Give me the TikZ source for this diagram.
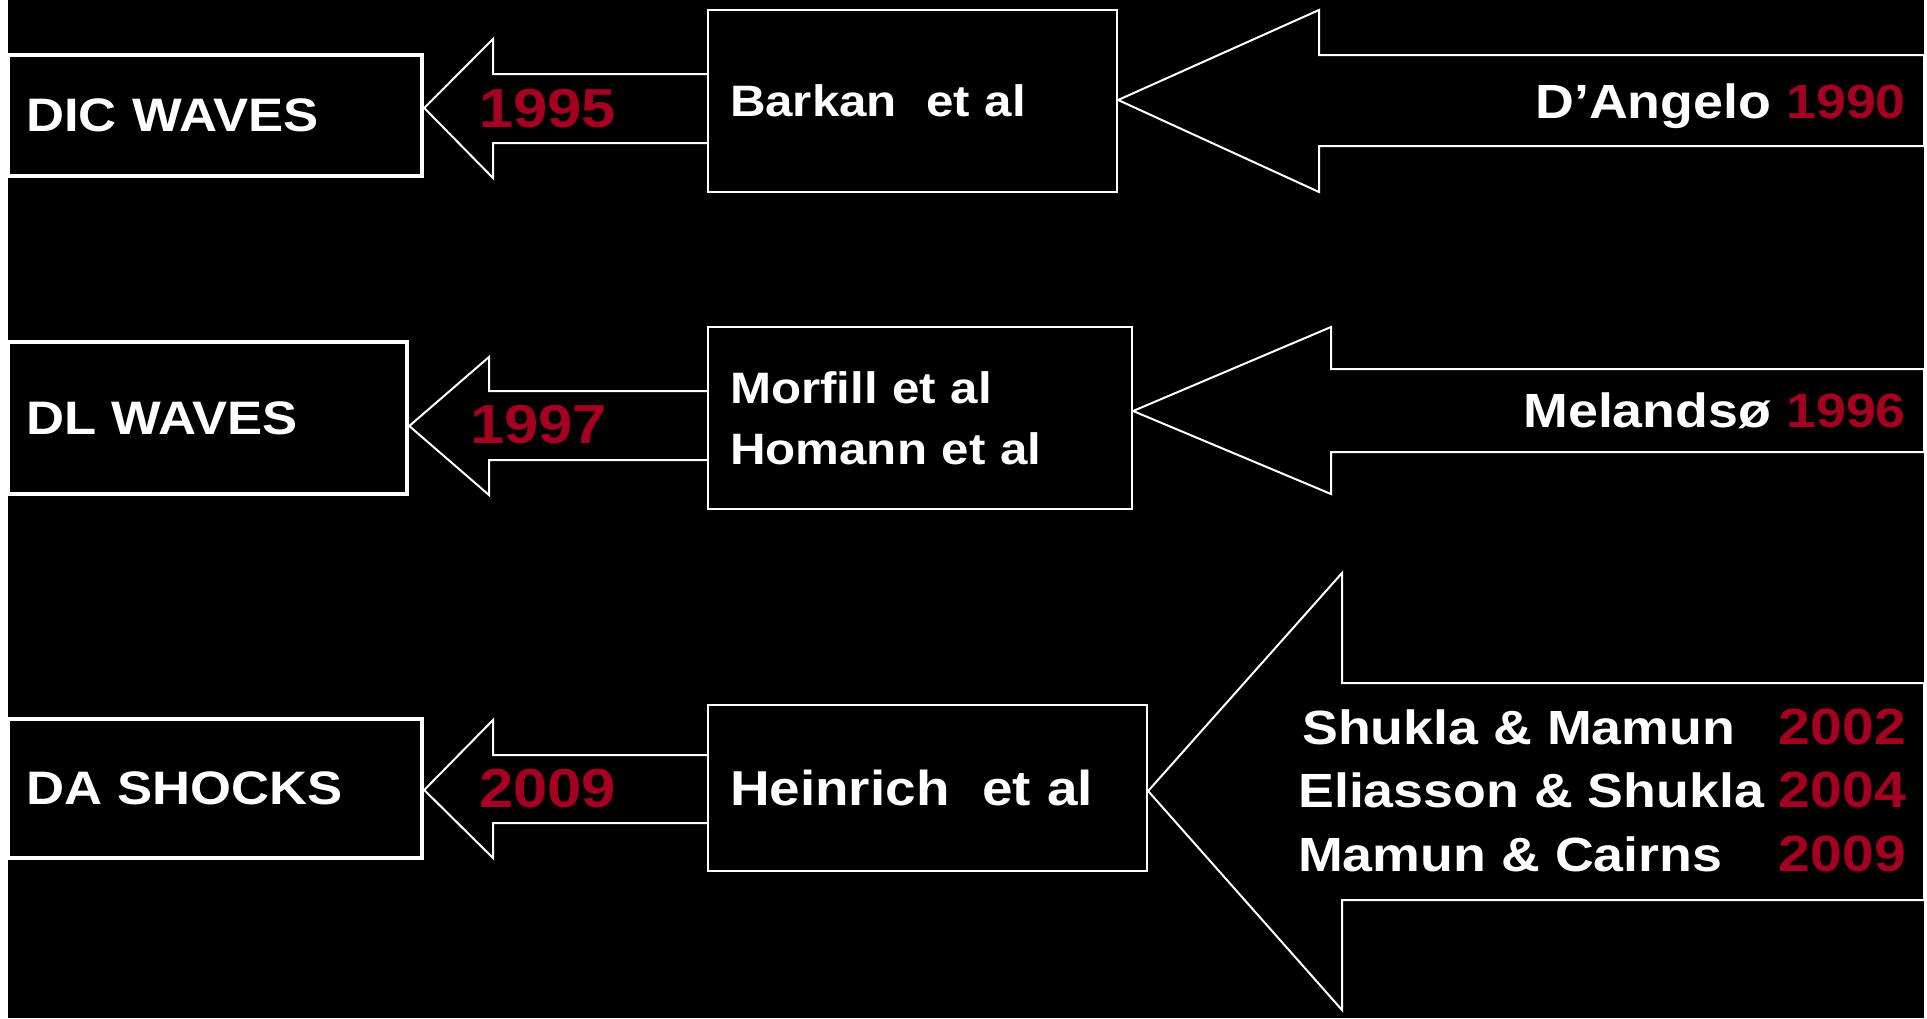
\documentclass[tikz,border=0pt]{standalone}
\usepackage{fontspec}
\setmainfont{Liberation Sans}[FakeStretch=1.12]
\usepackage{xcolor}
\usetikzlibrary{positioning}
\definecolor{yearred}{RGB}{165,0,33}
\tikzset{
    topicbox/.style={
        draw=white,
        line width=4.5pt,
        fill=black,
        text=white,
        inner xsep=18pt,
        inner ysep=0pt,
        align=left,
        font=\fontsize{47}{56}\selectfont\bfseries
    },
    authorbox/.style={
        draw=white,
        line width=2.2pt,
        fill=black,
        text=white,
        inner xsep=22pt,
        inner ysep=0pt,
        align=left,
        font=\fontsize{44}{61}\selectfont\bfseries
    },
    blockarrow/.style={
        draw=white,
        line width=2pt,
        line join=miter
    },
    yeartext/.style={
        text=yearred,
        inner sep=0pt,
        anchor=base west,
        font=\fontsize{55}{66}\selectfont\bfseries
    },
    sourcetext/.style={
        text=white,
        inner sep=0pt,
        font=\fontsize{48}{63}\selectfont\bfseries
    }
}

\begin{document}
\begin{tikzpicture}[x=1pt, y=-1pt]
    % Page and black background
    \useasboundingbox (0,0) rectangle (1927,1018);
    \fill[white] (0,0) rectangle (1927,1018);
    \fill[black] (8,0) rectangle (1924,1018);

    % Topics on the left
    \node[topicbox, text width=378pt, minimum height=121pt] (dic) at (215,115.5) {DIC WAVES};
    \node[topicbox, text width=363pt, minimum height=152pt] (dl) at (207.5,418) {DL WAVES};
    \node[topicbox, text width=378pt, minimum height=139pt] (da) at (215,788.5) {DA SHOCKS};

    % Experiments in the middle
    \node[authorbox, text width=365pt, minimum height=182pt] (barkan) at (912.5,101) {Barkan\ \ et al};
    \node[authorbox, text width=380pt, minimum height=182pt] (morfill) at (920,418) {Morfill et al\\Homann et al};
    \node[authorbox, text width=395pt, minimum height=166pt, font=\fontsize{49}{61}\selectfont\bfseries] (heinrich) at (927.5,788) {Heinrich\ \ et al};

    % Small arrows: experiment to topic
    \draw[blockarrow] (barkan.west |- 0,74) -- (493,74) -- (493,39) -- (dic.east |- 0,108)
        -- (493,178) -- (493,143) -- (barkan.west |- 0,143);
    \draw[blockarrow] (morfill.west |- 0,391) -- (489,391) -- (489,357) -- (dl.east |- 0,426)
        -- (489,495) -- (489,460) -- (morfill.west |- 0,460);
    \draw[blockarrow] (heinrich.west |- 0,755) -- (493,755) -- (493,720) -- (da.east |- 0,790)
        -- (493,858) -- (493,823) -- (heinrich.west |- 0,823);

    \node[yeartext] (y1995) at (479,127) {1995};
    \node[yeartext] (y1997) at (470,443) {1997};
    \node[yeartext] (y2009) at (479,807) {2009};

    % Big arrows: theory to experiment
    \draw[blockarrow] (barkan.east |- 0,100) -- (1319,10) -- (1319,55) -- (1924,55)
        -- (1924,146) -- (1319,146) -- (1319,192) -- cycle;
    \draw[blockarrow] (morfill.east |- 0,411) -- (1331,327) -- (1331,369) -- (1924,369)
        -- (1924,452) -- (1331,452) -- (1331,494) -- cycle;
    \draw[blockarrow] (heinrich.east |- 0,791) -- (1342,573) -- (1342,683) -- (1924,683)
        -- (1924,900) -- (1342,900) -- (1342,1010) -- cycle;

    % Theory papers
    \node[sourcetext, anchor=base east] (dangelo) at (1906,118) {D’Angelo \textcolor{yearred}{1990}};
    \node[sourcetext, anchor=base east] (melandso) at (1906,427) {Melandsø \textcolor{yearred}{1996}};

    \node[sourcetext, anchor=base west] (shukla) at (1302,744) {Shukla \& Mamun};
    \node[sourcetext, anchor=base west] (eliasson) at (1298,807) {Eliasson \& Shukla};
    \node[sourcetext, anchor=base west] (mamun) at (1298,871) {Mamun \& Cairns};
    \node[sourcetext, anchor=base east, text=yearred, font=\fontsize{51}{63}\selectfont\bfseries] (y2002) at (1906,744) {2002};
    \node[sourcetext, anchor=base east, text=yearred, font=\fontsize{51}{63}\selectfont\bfseries] (y2004) at (1906,807) {2004};
    \node[sourcetext, anchor=base east, text=yearred, font=\fontsize{51}{63}\selectfont\bfseries] (y2009b) at (1906,871) {2009};
\end{tikzpicture}
\end{document}
